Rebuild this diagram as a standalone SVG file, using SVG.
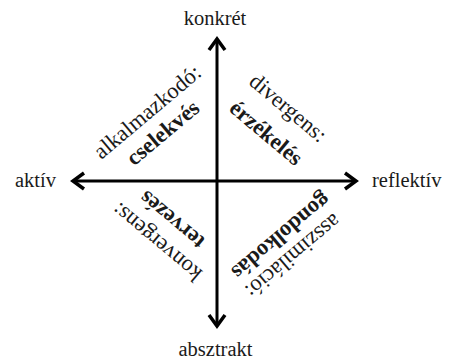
<svg xmlns="http://www.w3.org/2000/svg" width="449" height="359" viewBox="0 0 449 359">
<defs>
<marker id="chev" markerUnits="userSpaceOnUse" viewBox="-14 -10 16 20" refX="0" refY="0" markerWidth="16" markerHeight="20" orient="auto-start-reverse" overflow="visible">
<path d="M -11 -8 L 0 0 L -11 8" fill="none" stroke="#000" stroke-width="3.5" stroke-linejoin="miter"/>
</marker>
<style>
.ax{font-family:"Liberation Serif","Times New Roman",serif;font-size:20.5px;fill:#1a1a1a}
.rt{font-family:"Liberation Serif","Times New Roman",serif;font-size:22.5px;fill:#1a1a1a;text-anchor:middle}
.b{font-weight:bold}
.axis{stroke:#000;stroke-width:3;fill:none}
</style>
</defs>
<rect width="449" height="359" fill="#fff"/>
<g id="connectors">
<line class="axis" x1="217" y1="39" x2="217" y2="326" marker-start="url(#chev)" marker-end="url(#chev)"/>
<line class="axis" x1="73" y1="181" x2="356" y2="181" marker-start="url(#chev)" marker-end="url(#chev)"/>
</g>
<g id="konkret"><text class="ax" x="215" y="25" text-anchor="middle">konkrét</text></g>
<g id="absztrakt"><text class="ax" x="215.5" y="356" text-anchor="middle">absztrakt</text></g>
<g id="aktiv"><text class="ax" x="15" y="187">aktív</text></g>
<g id="reflektiv"><text class="ax" x="372" y="187">reflektív</text></g>
<g id="alkalmazkodo">
<text class="rt" transform="translate(152,117.4) rotate(-40)">alkalmazkodó:</text>
<text class="rt b" transform="translate(167.5,138.4) rotate(-40)">cselekvés</text>
</g>
<g id="divergens">
<text class="rt" transform="translate(283.5,113.4) rotate(40)">divergens:</text>
<text class="rt b" transform="translate(261.5,138.4) rotate(40)">érzékelés</text>
</g>
<g id="konvergens">
<text class="rt" transform="translate(161.5,236.6) rotate(220)">konvergens:</text>
<text class="rt b" transform="translate(176.5,214.6) rotate(220)">tervezés</text>
</g>
<g id="asszimilacio">
<text class="rt" transform="translate(288.5,250.6) rotate(140)">asszimiláció:</text>
<text class="rt b" transform="translate(276.5,230.6) rotate(140)">gondolkodás</text>
</g>
</svg>
